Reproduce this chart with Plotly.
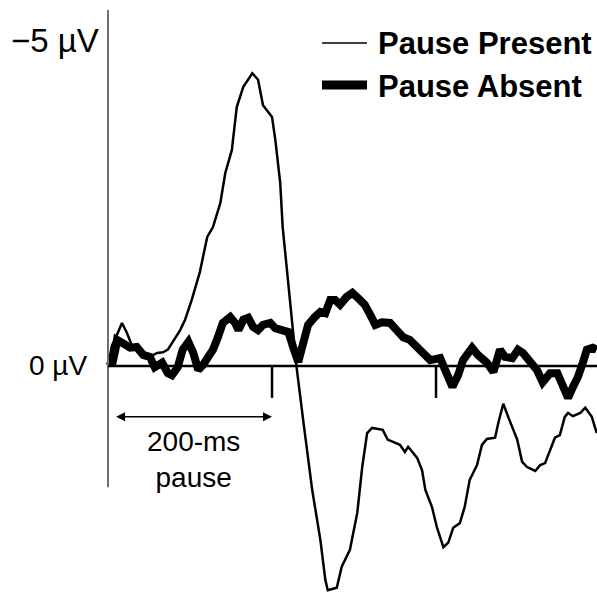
import plotly.graph_objects as go

# Time (ms) and amplitude (µV, negative plotted upward)
present_t = [0, 5, 11, 17, 23, 29, 35, 43, 51, 60, 67, 73, 79, 88, 94, 98, 102, 112, 121, 128, 137, 143,
             151, 157, 165, 176, 183, 189, 200, 204, 210, 213, 218, 222, 226, 230, 238, 244, 249, 259,
             265, 268, 279, 285, 295, 304, 310, 316, 322, 335, 341, 356, 362, 366, 377, 383, 387, 395,
             401, 409, 415, 421, 429, 435, 441, 450, 456, 462, 472, 476, 482, 488, 499, 505, 511, 521,
             527, 533, 539, 545, 551, 557, 561, 567, 576, 582, 590, 596]
present_v = [0.00, -0.32, -0.48, -0.66, -0.51, -0.32, -0.25, -0.21, -0.14, -0.20, -0.21, -0.25, -0.37,
             -0.55, -0.71, -0.86, -1.01, -1.44, -1.98, -2.13, -2.50, -2.96, -3.31, -3.97, -4.28, -4.49,
             -4.39, -4.00, -3.82, -3.47, -2.81, -2.13, -1.52, -1.01, -0.55, 0.02, 0.83, 1.44, 1.90, 2.67,
             3.28, 3.44, 3.40, 3.08, 2.82, 2.25, 1.55, 1.03, 0.95, 0.98, 1.13, 1.21, 1.32, 1.24, 1.41,
             1.60, 1.90, 2.16, 2.47, 2.78, 2.71, 2.48, 2.41, 2.16, 1.75, 1.52, 1.21, 1.12, 1.10, 0.87,
             0.58, 0.78, 1.13, 1.47, 1.55, 1.61, 1.52, 1.49, 1.29, 1.10, 1.06, 0.78, 0.72, 0.77, 0.72,
             0.64, 0.78, 1.03]

absent_t = [1, 5, 9, 11, 18, 27, 35, 43, 51, 57, 66, 73, 78, 85, 91, 98, 104, 110, 116, 122, 128, 134,
            140, 149, 155, 159, 165, 171, 177, 183, 189, 198, 204, 212, 220, 226, 232, 238, 244, 252,
            259, 265, 271, 277, 283, 291, 298, 305, 313, 320, 326, 334, 344, 352, 360, 368, 377, 384,
            393, 405, 411, 420, 427, 433, 444, 451, 462, 470, 478, 484, 493, 500, 506, 515, 523, 530,
            539, 548, 555, 561, 567, 573, 579, 584, 591, 596]
absent_v = [-0.08, -0.02, -0.25, -0.40, -0.35, -0.28, -0.29, -0.17, -0.14, 0.02, -0.05, 0.11, 0.14,
            0.02, -0.25, -0.37, -0.20, 0.06, -0.02, -0.14, -0.25, -0.44, -0.66, -0.75, -0.66, -0.55,
            -0.71, -0.74, -0.60, -0.55, -0.63, -0.66, -0.58, -0.55, -0.52, -0.28, -0.06, -0.35, -0.63,
            -0.75, -0.83, -0.81, -1.01, -1.01, -0.94, -1.06, -1.12, -1.04, -0.94, -0.78, -0.63, -0.67,
            -0.66, -0.55, -0.44, -0.40, -0.28, -0.17, -0.09, -0.12, 0.06, 0.32, 0.14, -0.09, -0.28,
            -0.17, -0.05, 0.09, -0.25, -0.14, -0.12, -0.25, -0.20, -0.05, 0.06, 0.25, 0.11, 0.11, 0.29,
            0.49, 0.32, 0.17, -0.05, -0.25, -0.28, -0.25]

series_names = ["Pause Present", "Pause Absent"]
y_tick_values = [-5, 0]
y_tick_labels = ["\u22125 \u00b5V", "0 \u00b5V"]
x_tick_values = [200, 400]
pause_label = "200-ms<br>pause"
pause_ms = 200

W, H = 597, 593
FONT = "Liberation Sans, Arial, sans-serif"

fig = go.Figure()
fig.add_trace(go.Scatter(x=present_t, y=present_v, mode="lines", name=series_names[0],
                         line=dict(color="black", width=2.5), showlegend=False))
fig.add_trace(go.Scatter(x=absent_t, y=absent_v, mode="lines", name=series_names[1],
                         line=dict(color="black", width=8), showlegend=False))

shapes = []
# vertical axis
shapes.append(dict(type="line", xref="x", yref="y", x0=0, x1=0, y0=-5.46, y1=1.86,
                   line=dict(color="#707070", width=2)))
# zero line
shapes.append(dict(type="line", xref="x", yref="y", x0=0, x1=620, y0=0, y1=0,
                   line=dict(color="black", width=2.5)))
# time ticks
for tv in x_tick_values:
    shapes.append(dict(type="line", xref="x", yref="y", x0=tv, x1=tv, y0=0, y1=0.49,
                       line=dict(color="black", width=2.5)))
# legend samples
shapes.append(dict(type="line", xref="paper", yref="paper", x0=322 / W, x1=367 / W,
                   y0=1 - 43 / H, y1=1 - 43 / H, line=dict(color="black", width=1.5)))
shapes.append(dict(type="line", xref="paper", yref="paper", x0=322 / W, x1=367 / W,
                   y0=1 - 85 / H, y1=1 - 85 / H, line=dict(color="black", width=9)))

annotations = []
label_right = {-5: 101, 0: 89}
label_y_px = {-5: 40, 0: 365}
label_size = {-5: 33, 0: 28}
for v, lab in zip(y_tick_values, y_tick_labels):
    annotations.append(dict(xref="paper", yref="paper", x=label_right[v] / W, y=1 - label_y_px[v] / H,
                            text=lab, showarrow=False, xanchor="right", yanchor="middle",
                            font=dict(family=FONT, size=label_size[v], color="black")))
annotations.append(dict(xref="paper", yref="paper", x=376 / W, y=1 - 43 / H, text="<b>%s</b>" % series_names[0],
                        showarrow=False, xanchor="left", yanchor="middle",
                        font=dict(family=FONT, size=31, color="black")))
annotations.append(dict(xref="paper", yref="paper", x=376 / W, y=1 - 86 / H, text="<b>%s</b>" % series_names[1],
                        showarrow=False, xanchor="left", yanchor="middle",
                        font=dict(family=FONT, size=31, color="black")))
# double arrow for pause
annotations.append(dict(xref="x", yref="y", x=pause_ms, y=0.78, axref="x", ayref="y", ax=8, ay=0.78,
                        text="", showarrow=True, arrowside="end+start", arrowhead=2, arrowsize=1.2,
                        arrowwidth=1.5, arrowcolor="black"))
annotations.append(dict(xref="x", yref="y", x=104, y=1.44, text=pause_label, showarrow=False,
                        xanchor="center", yanchor="middle",
                        font=dict(family=FONT, size=28, color="black")))

fig.update_layout(
    width=W, height=H, margin=dict(l=0, r=0, t=0, b=0),
    paper_bgcolor="white", plot_bgcolor="white",
    xaxis=dict(range=[-131.7, 596.3], visible=False),
    yaxis=dict(range=[3.482, -5.613], visible=False),
    shapes=shapes, annotations=annotations,
)

fig.write_html("out.html", config={"displayModeBar": False},
               post_script="document.body.style.margin='0px';")
